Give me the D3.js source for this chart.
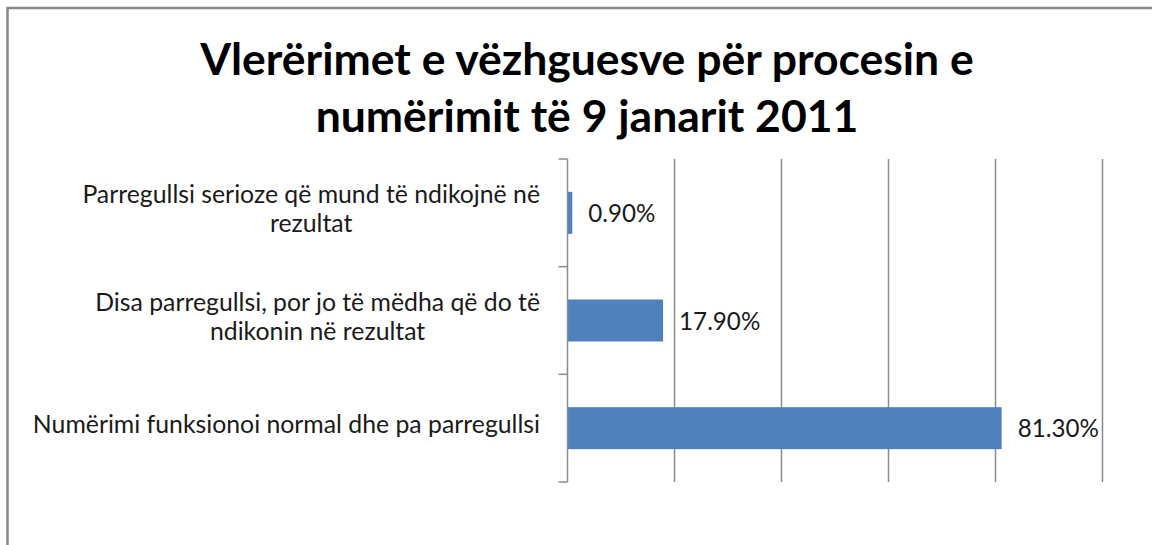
<!DOCTYPE html>
<html>
<head>
<meta charset="utf-8">
<script src="https://cdn.jsdelivr.net/npm/d3@7"></script>
<style>
html,body{margin:0;padding:0;background:#fff;}
svg{display:block;}
</style>
</head>
<body>
<svg id="chart" width="1152" height="545"></svg>
<script>
const titleLines = ["Vlerërimet e vëzhguesve për procesin e", "numërimit të 9 janarit 2011"];
const categories = [
  ["Parregullsi serioze që mund të ndikojnë në", "rezultat"],
  ["Disa parregullsi, por jo të mëdha që do të", "ndikonin në rezultat"],
  ["Numërimi funksionoi normal dhe pa parregullsi"]
];
const values = [0.9, 17.9, 81.3];
const valueLabels = ["0.90%", "17.90%", "81.30%"];
const xTicks = [0, 20, 40, 60, 80, 100];

const svg = d3.select("#chart");
const W = 1152, H = 545;
const m = {left: 567.5, right: 1152 - 1101.5, top: 159, bottom: 545 - 482};

// frame
svg.append("path")
  .attr("d", `M7.5,${H+5} L7.5,8 L${W+5},8`)
  .attr("fill", "none").attr("stroke", "#878787").attr("stroke-width", 2.5);

// title
const title = svg.append("text")
  .attr("text-anchor", "middle")
  .attr("font-family", "Lato, 'Open Sans', sans-serif")
  .attr("font-weight", "bold")
  .attr("font-size", 44.5)
  .attr("fill", "#000");
titleLines.forEach((t, i) => {
  title.append("tspan").attr("x", 587).attr("y", 75 + i * 57).text(t);
});

const x = d3.scaleLinear().domain([0, 100]).range([m.left, W - m.right]);
const y = d3.scaleBand().domain(d3.range(categories.length))
  .range([m.top, H - m.bottom]).paddingInner(0.61).paddingOuter(0.305);

// gridlines
svg.append("g").selectAll("line").data(xTicks.slice(1)).join("line")
  .attr("x1", d => Math.round(x(d)) + 0.5).attr("x2", d => Math.round(x(d)) + 0.5)
  .attr("y1", m.top).attr("y2", H - m.bottom)
  .attr("stroke", "#8c8c8c").attr("stroke-width", 1.5);

// bars
svg.append("g").selectAll("rect").data(values).join("rect")
  .attr("x", x(0)).attr("y", (d, i) => y(i))
  .attr("width", d => x(d) - x(0)).attr("height", y.bandwidth())
  .attr("fill", "#4f81bd");

// y axis line and ticks
const boundaries = d3.range(categories.length + 1).map(i => m.top + i * y.step());
svg.append("line").attr("x1", m.left).attr("x2", m.left)
  .attr("y1", m.top).attr("y2", H - m.bottom)
  .attr("stroke", "#8c8c8c").attr("stroke-width", 1.5);
svg.append("g").selectAll("line").data(boundaries).join("line")
  .attr("x1", m.left - 9).attr("x2", m.left)
  .attr("y1", d => d).attr("y2", d => d)
  .attr("stroke", "#8c8c8c").attr("stroke-width", 1.5);

// category labels
const lineH = 29;
categories.forEach((lines, i) => {
  const cy = y(i) + y.bandwidth() / 2;
  const g = svg.append("text")
    .attr("font-family", "Lato, 'Open Sans', sans-serif")
    .attr("font-size", 24.8)
    .attr("fill", "#1a1a1a")
    .attr("text-anchor", "middle");
  const widestX = 540;
  lines.forEach((l, j) => {
    g.append("tspan").text(l);
  });
  const maxW = d3.max(g.selectAll("tspan").nodes(), n => n.getComputedTextLength());
  const centerX = widestX - maxW / 2;
  const n = lines.length;
  g.selectAll("tspan")
    .attr("x", centerX)
    .attr("y", (d, j) => cy + 5 + (j - (n - 1) / 2) * lineH);
});

// value labels
svg.append("g").selectAll("text").data(values).join("text")
  .attr("x", d => x(d) + 16)
  .attr("y", (d, i) => y(i) + y.bandwidth() / 2 + 9)
  .attr("font-family", "Lato, 'Open Sans', sans-serif")
  .attr("font-size", 24.2)
  .attr("fill", "#1a1a1a")
  .text((d, i) => valueLabels[i]);
</script>
</body>
</html>
